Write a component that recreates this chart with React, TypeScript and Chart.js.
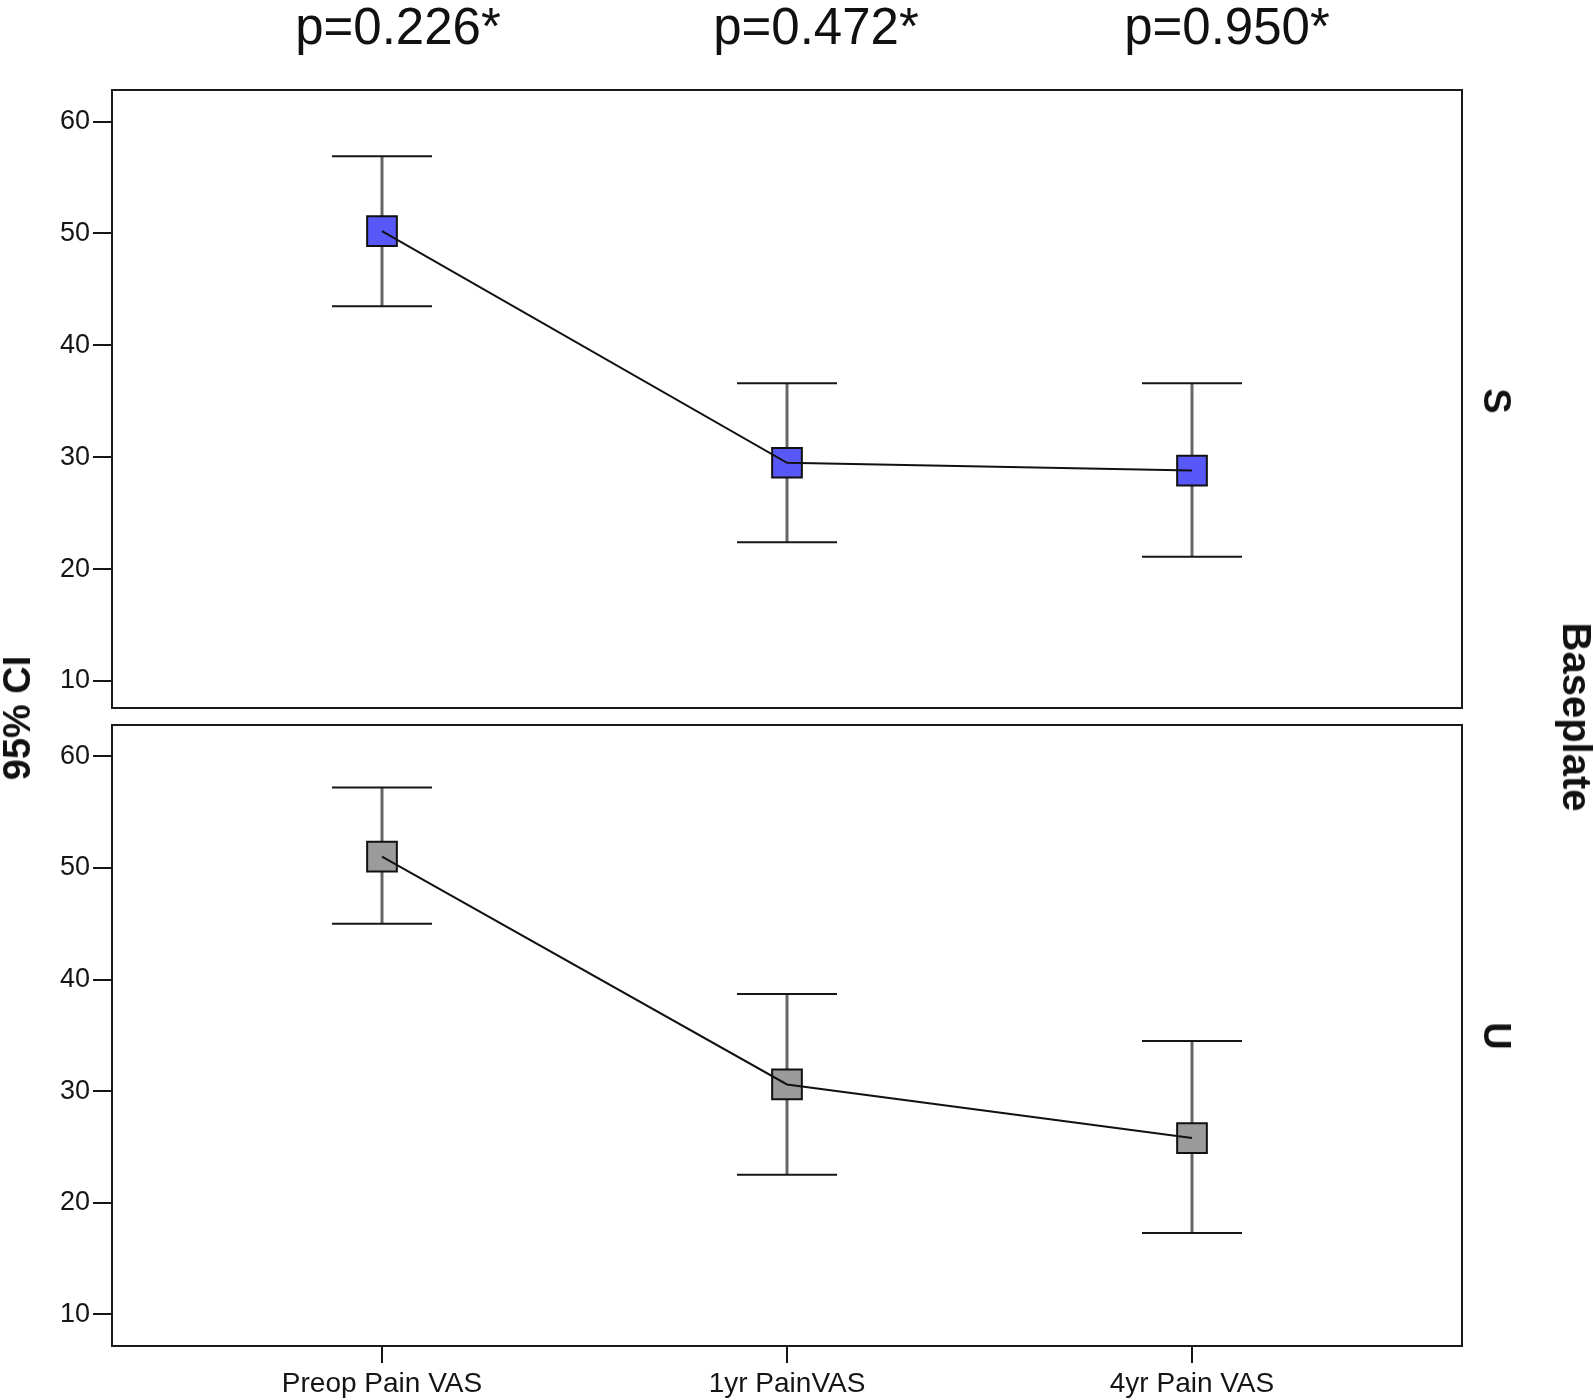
import React, { useEffect, useRef } from "react";
import { Chart, registerables } from "chart.js";

Chart.register(...registerables);

const categories = ["Preop Pain VAS", "1yr PainVAS", "4yr Pain VAS"];
const xPositions = [0, 1, 2];
const yTicks = [10, 20, 30, 40, 50, 60];
const pValues = ["p=0.226*", "p=0.472*", "p=0.950*"];
const panelLabels = ["S", "U"];

const sMean = [50.2, 29.5, 28.8];
const sLower = [43.5, 22.4, 21.1];
const sUpper = [56.9, 36.6, 36.6];

const uMean = [51.0, 30.6, 25.8];
const uLower = [45.0, 22.5, 17.3];
const uUpper = [57.2, 38.7, 34.5];

const FONT = "'Liberation Sans', Arial, Helvetica, sans-serif";

const errorBarPlugin = {
  id: "errorBars",
  beforeDatasetsDraw(chart: any, _args: any, opts: any) {
    const { ctx, scales } = chart;
    const xs = scales.x;
    const ys = scales.y;
    const lower: number[] = opts.lower;
    const upper: number[] = opts.upper;
    ctx.save();
    for (let i = 0; i < lower.length; i++) {
      const x = xs.getPixelForValue(xPositions[i]);
      const yl = ys.getPixelForValue(lower[i]);
      const yu = ys.getPixelForValue(upper[i]);
      ctx.strokeStyle = "#666666";
      ctx.lineWidth = 3;
      ctx.beginPath();
      ctx.moveTo(x, yu);
      ctx.lineTo(x, yl);
      ctx.stroke();
      ctx.strokeStyle = "#161616";
      ctx.lineWidth = 2;
      ctx.beginPath();
      ctx.moveTo(x - 50, yu);
      ctx.lineTo(x + 50, yu);
      ctx.moveTo(x - 50, yl);
      ctx.lineTo(x + 50, yl);
      ctx.stroke();
    }
    ctx.restore();
  },
};

const boxPlugin = {
  id: "panelBox",
  afterDraw(chart: any) {
    const { ctx, chartArea } = chart;
    ctx.save();
    ctx.strokeStyle = "#1a1a1a";
    ctx.lineWidth = 2;
    ctx.strokeRect(
      chartArea.left,
      chartArea.top,
      chartArea.right - chartArea.left,
      chartArea.bottom - chartArea.top
    );
    ctx.restore();
  },
};

function makeConfig(
  mean: number[],
  lower: number[],
  upper: number[],
  fill: string,
  showX: boolean,
  yMin: number,
  yMax: number,
  padding: any
): any {
  const pts = xPositions.map((x, i) => ({ x, y: mean[i] }));
  return {
    type: "line",
    data: {
      datasets: [
        {
          data: pts,
          borderColor: "#111",
          borderWidth: 2,
          pointRadius: 0,
          tension: 0,
          order: 0,
        },
        {
          data: pts,
          showLine: false,
          pointStyle: "rect",
          pointRadius: 21,
          pointBackgroundColor: fill,
          pointBorderColor: "#111",
          pointBorderWidth: 2,
          order: 1,
        },
      ],
    },
    options: {
      animation: false,
      responsive: false,
      maintainAspectRatio: false,
      layout: { padding },
      plugins: {
        legend: { display: false },
        tooltip: { enabled: false },
        errorBars: { lower, upper },
      },
      scales: {
        x: {
          type: "linear",
          min: -2 / 3,
          max: 8 / 3,
          display: showX,
          afterBuildTicks: (s: any) => {
            s.ticks = xPositions.map((v) => ({ value: v }));
          },
          afterFit: (s: any) => {
            if (showX) s.height = 54;
          },
          ticks: {
            callback: (_v: any, i: number) => categories[i],
            font: { family: FONT, size: 28 },
            color: "#151515",
            padding: 4,
            maxRotation: 0,
            autoSkip: false,
          },
          grid: {
            drawOnChartArea: false,
            drawTicks: true,
            tickLength: 17,
            color: "#151515",
            lineWidth: 2,
          },
          border: { display: false },
        },
        y: {
          type: "linear",
          min: yMin,
          max: yMax,
          afterBuildTicks: (s: any) => {
            s.ticks = yTicks.map((v) => ({ value: v }));
          },
          afterFit: (s: any) => {
            s.width = 112;
          },
          ticks: {
            font: { family: FONT, size: 27 },
            color: "#151515",
            padding: 3,
          },
          grid: {
            drawOnChartArea: false,
            drawTicks: true,
            tickLength: 19,
            color: "#151515",
            lineWidth: 2,
          },
          border: { display: false },
        },
      },
    },
    plugins: [errorBarPlugin, boxPlugin],
  };
}

export default function App() {
  const topRef = useRef<HTMLCanvasElement | null>(null);
  const botRef = useRef<HTMLCanvasElement | null>(null);

  useEffect(() => {
    const c1 = new Chart(
      topRef.current as HTMLCanvasElement,
      makeConfig(sMean, sLower, sUpper, "#5858f8", false, 7.58, 62.82, {
        top: 90,
        right: 132,
        bottom: 32,
        left: 0,
      })
    );
    const c2 = new Chart(
      botRef.current as HTMLCanvasElement,
      makeConfig(uMean, uLower, uUpper, "#9b9b9b", true, 7.17, 62.8, {
        top: 35,
        right: 132,
        bottom: 0,
        left: 0,
      })
    );
    return () => {
      c1.destroy();
      c2.destroy();
    };
  }, []);

  const pCenters = [398, 816, 1227];

  return (
    <div
      style={{
        position: "absolute",
        left: 0,
        top: 0,
        width: 1594,
        height: 1400,
        background: "#fff",
        overflow: "hidden",
        fontFamily: FONT,
        color: "#111",
      }}
    >
      <canvas
        ref={topRef}
        width={1594}
        height={740}
        style={{ position: "absolute", left: 0, top: 0, width: 1594, height: 740 }}
      />
      <canvas
        ref={botRef}
        width={1594}
        height={710}
        style={{ position: "absolute", left: 0, top: 690, width: 1594, height: 710 }}
      />
      {pValues.map((p, i) => (
        <div
          key={p}
          style={{
            position: "absolute",
            left: pCenters[i],
            top: 1,
            transform: "translateX(-50%)",
            fontSize: 51,
            lineHeight: "51px",
            whiteSpace: "nowrap",
          }}
        >
          {p}
        </div>
      ))}
      <div
        style={{
          position: "absolute",
          left: 17,
          top: 718,
          transform: "translate(-50%, -50%) rotate(-90deg)",
          fontSize: 38,
          lineHeight: "38px",
          fontWeight: "bold",
          whiteSpace: "nowrap",
        }}
      >
        95% CI
      </div>
      <div
        style={{
          position: "absolute",
          left: 1577,
          top: 717,
          transform: "translate(-50%, -50%) rotate(90deg)",
          fontSize: 40,
          lineHeight: "40px",
          fontWeight: "bold",
          whiteSpace: "nowrap",
        }}
      >
        Baseplate
      </div>
      {panelLabels.map((t, i) => (
        <div
          key={t}
          style={{
            position: "absolute",
            left: 1497,
            top: i === 0 ? 401 : 1036,
            transform: "translate(-50%, -50%) rotate(90deg)",
            fontSize: 38,
            lineHeight: "38px",
            fontWeight: "bold",
            whiteSpace: "nowrap",
          }}
        >
          {t}
        </div>
      ))}
    </div>
  );
}
